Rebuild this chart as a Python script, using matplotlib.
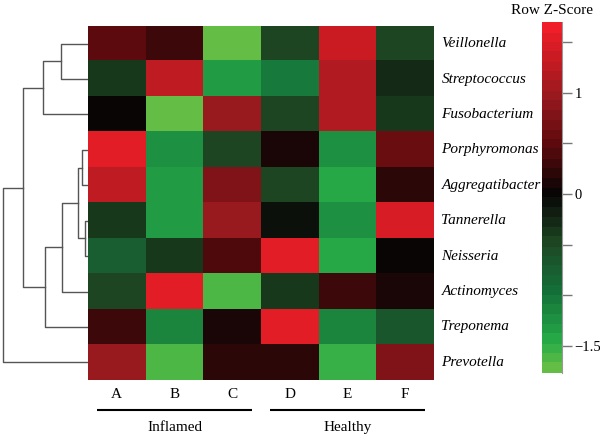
import matplotlib
matplotlib.use("Agg")
import matplotlib.pyplot as plt
import numpy as np
from matplotlib.colors import LinearSegmentedColormap

genera = ["Veillonella", "Streptococcus", "Fusobacterium", "Porphyromonas",
          "Aggregatibacter", "Tannerella", "Neisseria", "Actinomyces",
          "Treponema", "Prevotella"]
samples = ["A", "B", "C", "D", "E", "F"]
groups = ["Inflamed", "Healthy"]
group_cols = [[0, 2], [3, 5]]

zscores = np.array([
    [0.50, 0.30, -1.70, -0.50, 1.40, -0.45],
    [-0.35, 1.30, -1.30, -1.00, 1.15, -0.25],
    [0.00, -1.70, 1.00, -0.50, 1.20, -0.35],
    [1.60, -1.20, -0.50, 0.10, -1.20, 0.55],
    [1.30, -1.30, 0.80, -0.45, -1.45, 0.20],
    [-0.40, -1.30, 0.95, -0.10, -1.20, 1.50],
    [-0.80, -0.40, 0.40, 1.60, -1.45, -0.02],
    [-0.45, 1.60, -1.60, -0.35, 0.30, 0.15],
    [0.35, -1.10, 0.10, 1.60, -1.10, -0.65],
    [0.95, -1.65, 0.20, 0.25, -1.50, 0.80],
])

# linkage: (left, right, height); leaves 0..9, new clusters 10..
linkage = [
    (5, 6, 3),     # 10 Tannerella-Neisseria
    (3, 4, 6),     # 11 Porphyromonas-Aggregatibacter
    (11, 10, 10),  # 12
    (7, 12, 25),   # 13 + Actinomyces
    (0, 1, 26),    # 14 Veillonella-Streptococcus
    (8, 13, 42),   # 15 + Treponema
    (14, 2, 43),   # 16 + Fusobacterium
    (16, 15, 63),  # 17
    (17, 9, 82),   # 18 + Prevotella
]

cbar_ticks = [1.5, 1.0, 0.5, 0.0, -0.5, -1.0, -1.5]
cbar_labels = ["", "1", "", "0", "", "", "\u22121.5"]
vmin, vmax = -1.77, 1.70

anchors = [(-1.77, (100, 190, 70)), (-1.5, (40, 172, 72)), (-1.0, (20, 112, 58)),
           (-0.5, (30, 72, 36)), (0.0, (8, 5, 5)), (0.5, (92, 10, 14)),
           (1.0, (152, 25, 30)), (1.70, (240, 30, 40))]
cmap = LinearSegmentedColormap.from_list(
    "rz", [((v - vmin) / (vmax - vmin), tuple(c / 255 for c in rgb)) for v, rgb in anchors], N=36)

plt.rcParams['font.family'] = ['Liberation Serif', 'DejaVu Serif']

W, H = 600, 436
fig = plt.figure(figsize=(6, 4.36), dpi=100)

def ax_px(x0, y0, x1, y1):
    return fig.add_axes([x0 / W, 1 - y1 / H, (x1 - x0) / W, (y1 - y0) / H])

nr, nc = zscores.shape
hx = ax_px(88, 26, 434, 380)
hx.imshow(zscores, cmap=cmap, vmin=vmin, vmax=vmax, aspect='auto',
          interpolation='nearest', extent=(0, nc, nr, 0))
hx.set_xlim(0, nc)
hx.set_ylim(nr, 0)
hx.set_xticks([])
hx.set_yticks([])
for s in hx.spines.values():
    s.set_visible(False)
for i, g in enumerate(genera):
    hx.text(nc + 0.13, i + 0.5, g, style='italic', fontsize=11, va='center', ha='left')
for j, s in enumerate(samples):
    hx.text(j + 0.5, nr + 0.4, s, fontsize=11, ha='center', va='center')
for g, (c0, c1) in zip(groups, group_cols):
    hx.plot([c0 + 0.15, c1 + 0.85], [nr + 0.85, nr + 0.85], color='black', lw=1.5,
            clip_on=False, solid_capstyle='butt')
    hx.text((c0 + c1 + 1) / 2, nr + 1.33, g, fontsize=11, ha='center', va='center')

# dendrogram
dx = ax_px(0, 26, 88, 380)
dx.set_ylim(nr, 0)
dx.set_xlim(85, 0)
dx.axis('off')
pos = {i: (i + 0.5, 0.0) for i in range(nr)}
for k, (a, b, h) in enumerate(linkage):
    ya, ha_ = pos[a]
    yb, hb = pos[b]
    dx.plot([ha_, h, h, hb], [ya, ya, yb, yb], color='#555555', lw=1.0)
    pos[nr + k] = ((ya + yb) / 2, h)

# colorbar
cx = ax_px(542, 22, 562, 373)
grad = np.linspace(vmax, vmin, 300).reshape(-1, 1)
cx.imshow(grad, cmap=cmap, vmin=vmin, vmax=vmax, aspect='auto',
          extent=(0, 1, vmin, vmax), interpolation='nearest')
cx.set_xlim(0, 1)
cx.set_ylim(vmin, vmax)
cx.set_xticks([])
cx.yaxis.tick_right()
cx.set_yticks(cbar_ticks)
cx.set_yticklabels(cbar_labels, fontsize=10.5)
cx.tick_params(axis='y', length=7, width=1, color='#777777', pad=2)
for name, s in cx.spines.items():
    s.set_visible(name == 'right')
cx.spines['right'].set_color('#999999')
cx.set_title("Row Z-Score", fontsize=11, pad=6)

fig.savefig("out.png", dpi=100)
